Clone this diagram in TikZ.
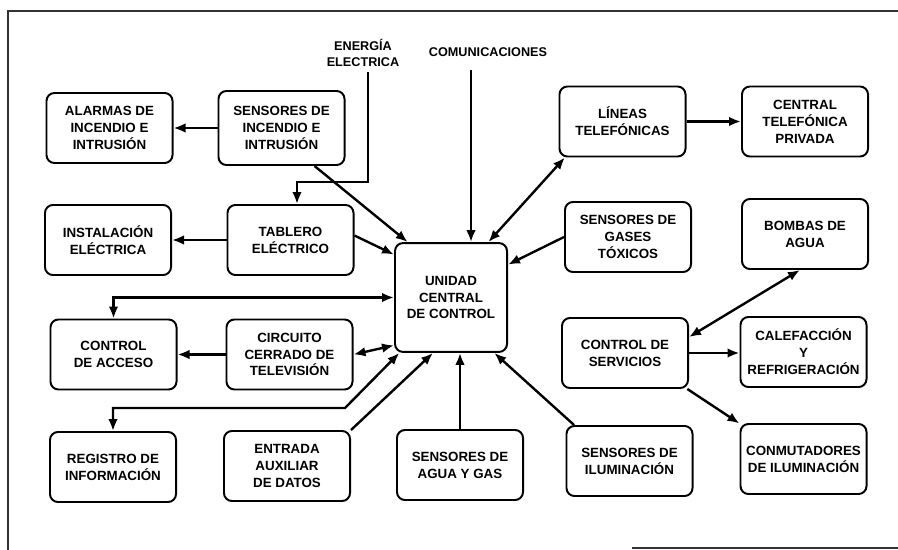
\documentclass[tikz,border=0pt]{standalone}
\usepackage{fontspec}
\setmainfont{Liberation Sans}
\usetikzlibrary{positioning, arrows.meta}

\begin{document}
\begin{tikzpicture}[
    x=0.025cm, y=-0.025cm,
    block/.style={rectangle, draw, rounded corners=2mm, line width=1.4pt, minimum width=3.15cm, minimum height=1.75cm, align=center, inner sep=1pt, font=\fontsize{9.5}{12}\selectfont\bfseries},
    tag/.style={align=center, inner sep=1pt, font=\fontsize{9}{11.5}\selectfont\bfseries},
    frame/.style={line width=1pt, black!80},
    arrow/.style={-{Latex[length=3mm, width=2.4mm]}, line width=1.7pt},
    dblarrow/.style={{Latex[length=3mm, width=2.4mm]}-{Latex[length=3mm, width=2.4mm]}, line width=1.7pt}
]
\useasboundingbox (0,0) rectangle (898,550);

% Cadre
\draw[frame] (8,550) -- (8,11) -- (898,11);
\draw[frame] (632,548) -- (898,548);

% Unité centrale
\node[block, minimum width=2.8cm, minimum height=2.72cm] (central) at (451,297.5) {UNIDAD\\CENTRAL\\DE CONTROL};

% Colonne gauche
\node[block] (alarmas) at (109.5,128) {ALARMAS DE\\INCENDIO E\\INTRUSIÓN};
\node[block] (instal) at (108,240) {INSTALACIÓN\\ELÉCTRICA};
\node[block] (acceso) at (113.5,354.5) {CONTROL\\DE ACCESO};
\node[block] (registro) at (113,467) {REGISTRO DE\\INFORMACIÓN};

% Deuxième colonne
\node[block, minimum height=1.85cm] (sensinc) at (281.5,128) {SENSORES DE\\INCENDIO E\\INTRUSIÓN};
\node[block] (tablero) at (290.5,240) {TABLERO\\ELÉCTRICO};
\node[block] (circuito) at (289.5,354.5) {CIRCUITO\\CERRADO DE\\TELEVISIÓN};
\node[block] (entrada) at (287,466) {ENTRADA\\AUXILIAR\\DE DATOS};

% Entrées du haut et du bas
\node[tag] (energia) at (363,53) {ENERGÍA\\ELECTRICA};
\node[tag] (comunic) at (488,52) {COMUNICACIONES};
\node[block] (agua) at (460,465) {SENSORES DE\\AGUA Y GAS};

% Colonnes droites
\node[block] (lineas) at (622.5,121.5) {LÍNEAS\\TELEFÓNICAS};
\node[block] (centel) at (805,121.5) {CENTRAL\\TELEFÓNICA\\PRIVADA};
\node[block] (gases) at (628,237) {SENSORES DE\\GASES\\TÓXICOS};
\node[block] (bombas) at (805,234) {BOMBAS DE\\AGUA};
\node[block] (servicios) at (625,353) {CONTROL DE\\SERVICIOS};
\node[block] (calef) at (803.5,352) {CALEFACCIÓN\\Y\\REFRIGERACIÓN};
\node[block] (sensilum) at (629.5,461) {SENSORES DE\\ILUMINACIÓN};
\node[block] (conmut) at (803.5,459) {CONMUTADORES\\DE ILUMINACIÓN};

% Points libres
\coordinate (energia-in) at (368,72);
\coordinate (energia-bend) at (297,182);
\coordinate (comunic-in) at (471,70);
\coordinate (registro-bend) at (345,408);

% Arrows
\draw[arrow] (sensinc.west) -- (alarmas.east);
\draw[arrow] (tablero.west) -- (instal.east);
\draw[arrow] (energia-in) |- (energia-bend) -- (energia-bend |- tablero.north);
\draw[arrow] (sensinc.-49) -- (central.128);
\draw[arrow] (tablero.4) -- (central.143);
\draw[arrow] (comunic-in) -- (comunic-in |- central.north);
\draw[dblarrow] (lineas.212) -- (central.56);
\draw[arrow] (lineas.east) -- (centel.west);
\draw[arrow] (gases.west) -- (central.30);
\draw[dblarrow] (central.west) -| (acceso.north);
\draw[arrow] (circuito.west) -- (acceso.east);
\draw[dblarrow] (circuito.east) -- (central.220);
\draw[dblarrow] (central.-133) -- (registro-bend) -| (registro.north);
\draw[arrow] (entrada.north east) -- (central.-108);
\draw[arrow] (agua.north) -- (agua.north |- central.south);
\draw[arrow] (sensilum.147) -- (central.-52);
\draw[dblarrow] (servicios.14) -- (bombas.-98);
\draw[arrow] (servicios.east) -- (servicios.east -| calef.west);
\draw[arrow] (servicios.-30) -- (conmut.151);

\end{tikzpicture}
\end{document}
